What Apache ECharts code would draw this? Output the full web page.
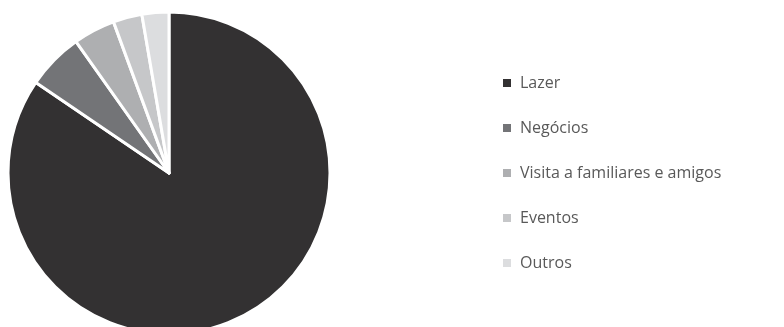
<!DOCTYPE html>
<html>
<head>
<meta charset="utf-8">
<script src="https://cdn.jsdelivr.net/npm/echarts@6/dist/echarts.min.js"></script>
<style>
  html, body { margin: 0; padding: 0; background: #ffffff; }
  #chart { width: 784px; height: 327px; }
</style>
</head>
<body>
<div id="chart"></div>
<script>
// Motivo da viagem (%)
const categories = ['Lazer', 'Negócios', 'Visita a familiares e amigos', 'Eventos', 'Outros'];
const values = [84.5, 5.7, 4.2, 2.9, 2.7];
const colors = ['#333132', '#737477', '#aeafb1', '#c6c7c9', '#dcdddf'];

const chart = echarts.init(document.getElementById('chart'), null, { renderer: 'canvas' });

chart.setOption({
  animation: false,
  color: colors,
  legend: {
    orient: 'vertical',
    left: 503,
    top: 75,
    padding: 0,
    icon: 'rect',
    itemWidth: 8,
    itemHeight: 8,
    itemGap: 29,
    itemStyle: { borderWidth: 0 },
    textStyle: {
      fontFamily: 'Open Sans',
      fontSize: 16,
      lineHeight: 16,
      color: '#595959',
      padding: [0, 0, 0, 4]
    },
    data: categories
  },
  series: [{
    type: 'pie',
    center: [169, 173],
    radius: [0, 161],
    startAngle: 90,
    clockwise: true,
    label: { show: false },
    labelLine: { show: false },
    itemStyle: { borderColor: '#ffffff', borderWidth: 3 },
    emphasis: { disabled: true },
    data: categories.map((name, i) => ({ name, value: values[i] }))
  }]
});
</script>
</body>
</html>
